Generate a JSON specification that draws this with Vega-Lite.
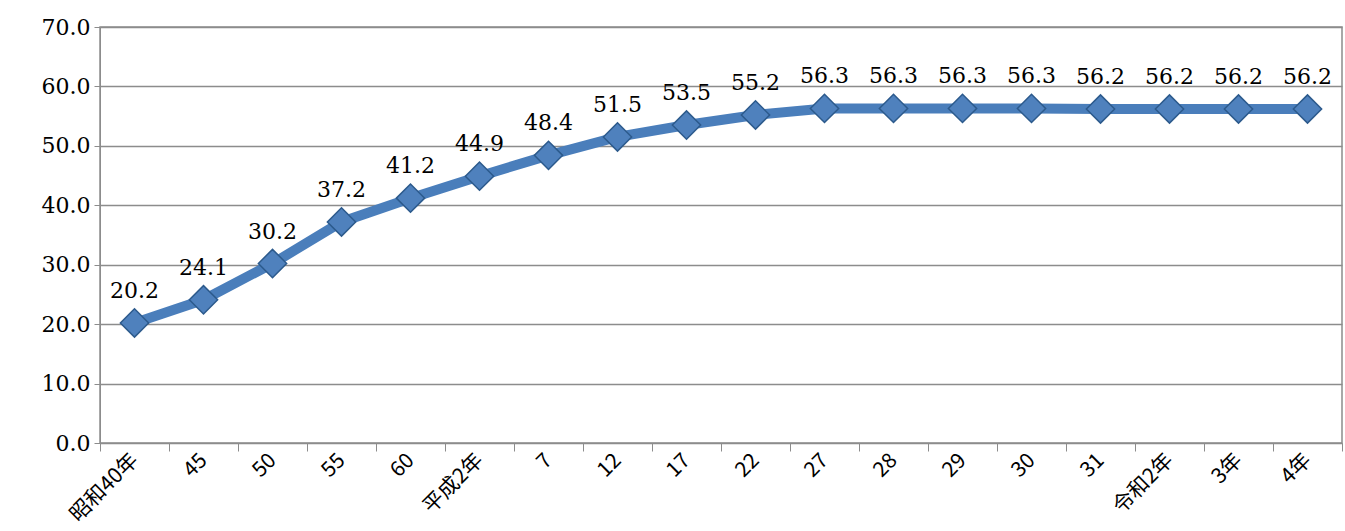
{
  "$schema": "https://vega.github.io/schema/vega-lite/v6.json",
  "autosize": "none",
  "padding": {"left": 100, "top": 27, "right": 3, "bottom": 88},
  "width": 1242,
  "height": 416,
  "config": {
    "view": {"stroke": "#8c8c8c", "strokeWidth": 1.5},
    "font": "DejaVu Serif"
  },
  "data": {"values": [
    {"year": "昭和40年", "v": 20.2},
    {"year": "45", "v": 24.1},
    {"year": "50", "v": 30.2},
    {"year": "55", "v": 37.2},
    {"year": "60", "v": 41.2},
    {"year": "平成2年", "v": 44.9},
    {"year": "7", "v": 48.4},
    {"year": "12", "v": 51.5},
    {"year": "17", "v": 53.5},
    {"year": "22", "v": 55.2},
    {"year": "27", "v": 56.3},
    {"year": "28", "v": 56.3},
    {"year": "29", "v": 56.3},
    {"year": "30", "v": 56.3},
    {"year": "31", "v": 56.2},
    {"year": "令和2年", "v": 56.2},
    {"year": "3年", "v": 56.2},
    {"year": "4年", "v": 56.2}
  ]},
  "encoding": {
    "x": {"field": "year", "type": "ordinal", "sort": null, "title": null,
      "scale": {"paddingInner": 0, "paddingOuter": 0},
      "axis": {"labelAngle": -45, "labelAlign": "right", "labelBaseline": "middle", "labelFontSize": 21,
        "labelColor": "#000", "labelFont": "Noto Sans CJK JP", "labelOffset": 0, "labelPadding": 6,
        "tickBand": "extent", "tickColor": "#8c8c8c", "tickSize": 8, "domainColor": "#8c8c8c", "grid": false}},
    "y": {"field": "v", "type": "quantitative", "title": null,
      "scale": {"domain": [0, 70], "nice": false},
      "axis": {"values": [0,10,20,30,40,50,60,70], "format": ".1f", "labelFontSize": 22, "labelColor": "#000",
        "gridColor": "#8c8c8c", "gridWidth": 1.5, "domainColor": "#8c8c8c", "tickColor": "#8c8c8c", "tickSize": 6, "labelPadding": 4}}
  },
  "layer": [
    {"mark": {"type": "line", "color": "#4a7ebb", "strokeWidth": 10}},
    {"mark": {"type": "point", "shape": "diamond", "size": 800, "filled": true, "fill": "#4f81bd", "stroke": "#2c5a8c", "strokeWidth": 1.5, "opacity": 1}},
    {"mark": {"type": "text", "dy": -32, "fontSize": 22, "color": "#000"},
      "encoding": {"text": {"field": "v", "type": "quantitative", "format": ".1f"}}}
  ]
}
